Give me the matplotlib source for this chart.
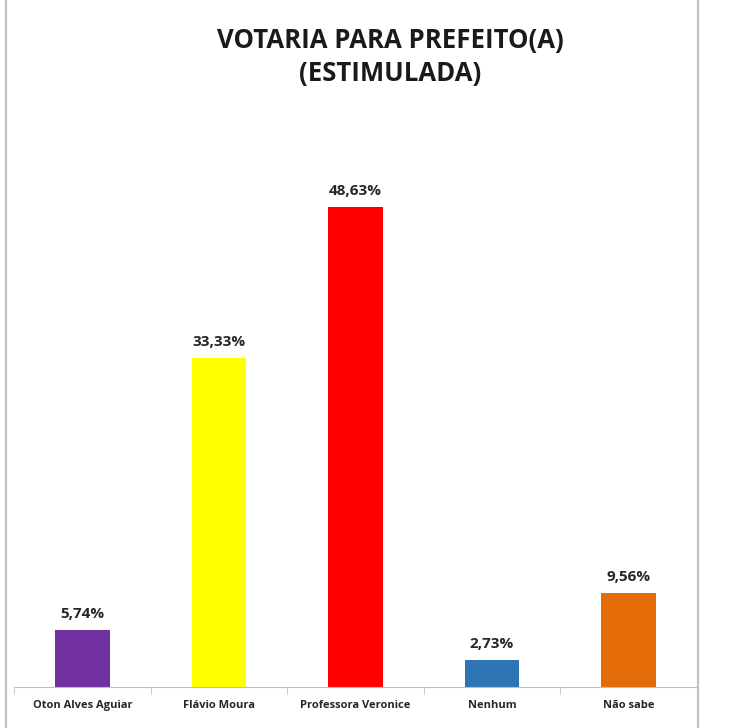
import matplotlib.pyplot as plt
from matplotlib.lines import Line2D
import numpy as np

# dados da pesquisa
candidatos = ['Oton Alves Aguiar', 'Flávio Moura', 'Professora Veronice', 'Nenhum', 'Não sabe']
percentuais = [5.74, 33.33, 48.63, 2.73, 9.56]
cores = ['#7030a0', '#ffff00', '#ff0000', '#2e75b6', '#e36c09']

plt.rcParams['font.family'] = ['Open Sans', 'DejaVu Sans']

fig = plt.figure(figsize=(7.33, 7.28), dpi=100)
ax = fig.add_axes([0.01944, 0.0563, 0.9311, 0.6779])

x = np.arange(len(candidatos))
bars = ax.bar(x, percentuais, width=0.40, color=cores)

# rotulos com valores
for bar, val in zip(bars, percentuais):
    txt = f'{val:.2f}'.replace('.', ',') + '%'
    ax.text(bar.get_x() + bar.get_width() / 2, val + 0.9, txt,
            ha='center', va='bottom', fontsize=11, fontweight='bold', color='#262626')

ax.set_xlim(-0.5, len(candidatos) - 0.5)
ax.set_ylim(0, 50)
ax.set_xticks(x)
ax.set_xticklabels(candidatos, fontsize=8, fontweight='bold', color='#262626')
ax.set_xticks(np.arange(-0.5, len(candidatos)), minor=True)
ax.tick_params(axis='x', which='major', length=0, pad=9)
ax.tick_params(axis='x', which='minor', length=5, color='#bfbfbf')
ax.set_yticks([])
for s in ['top', 'right', 'left']:
    ax.spines[s].set_visible(False)
ax.spines['bottom'].set_color('#bfbfbf')

fig.text(0.532, 0.922, 'VOTARIA PARA PREFEITO(A)\n(ESTIMULADA)', ha='center', va='center',
         fontsize=18.5, fontweight='bold', color='#1a1a1a', linespacing=1.3)

# bordas da area do grafico
fig.add_artist(Line2D([6 / 733, 6 / 733], [0, 1], color='#c0c0c0', lw=1.5))
fig.add_artist(Line2D([698 / 733, 698 / 733], [0, 1], color='#c0c0c0', lw=1.5))

fig.savefig('out.png', dpi=100)
